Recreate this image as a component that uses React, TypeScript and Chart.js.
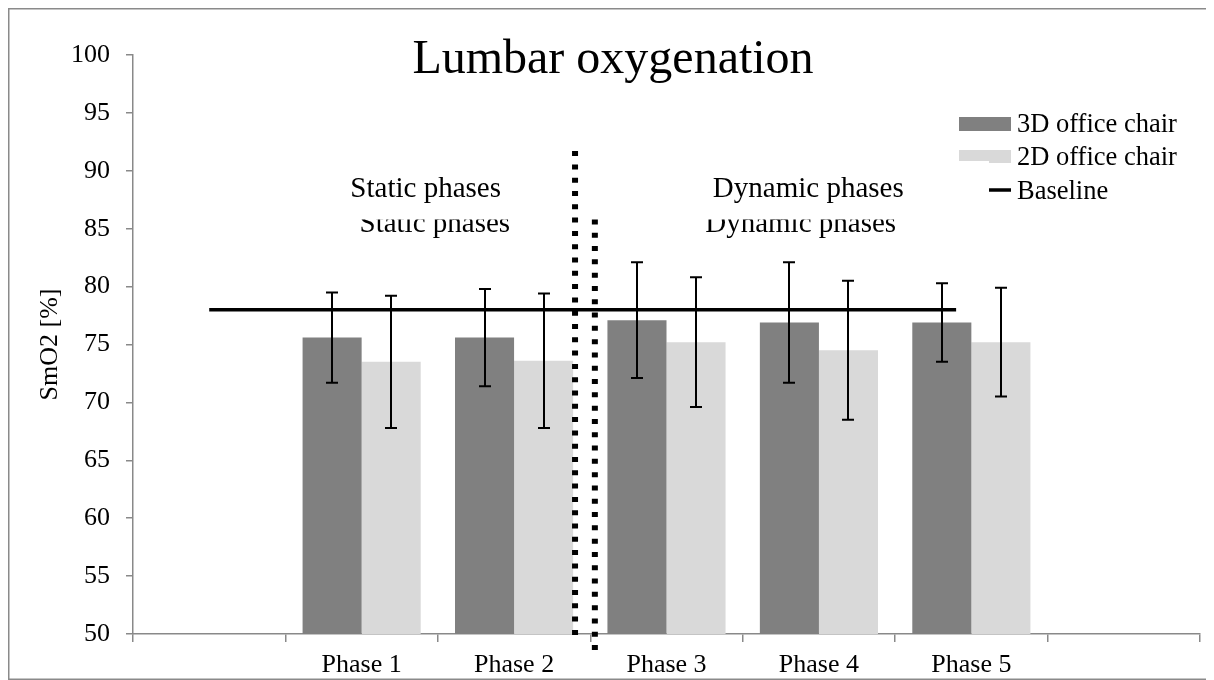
import React, { useEffect, useRef } from 'react';
import { Chart, registerables } from 'chart.js';

Chart.register(...registerables);

const FONT = "'Liberation Serif', 'Times New Roman', serif";

const CATEGORIES = ['', 'Phase 1', 'Phase 2', 'Phase 3', 'Phase 4', 'Phase 5', ''];
const CHAIR_3D = [null, 75.6, 75.6, 77.1, 76.9, 76.9, null];
const CHAIR_3D_SD = [null, 3.9, 4.2, 5.0, 5.2, 3.4, null];
const CHAIR_2D = [null, 73.5, 73.6, 75.2, 74.5, 75.2, null];
const CHAIR_2D_SD = [null, 5.7, 5.8, 5.6, 6.0, 4.7, null];
const BASELINE_VALUE = 78;
const BASELINE_FROM_TO = [0, 4.9];
const Y_MIN = 50;
const Y_MAX = 100;
const Y_STEP = 5;
const TITLE = 'Lumbar oxygenation';
const Y_TITLE = 'SmO2 [%]';
const SERIES_NAMES = ['3D office chair', '2D office chair', 'Baseline'];
const COLORS = ['#808080', '#d9d9d9', '#000000'];
// divider lines (x in category index units, y in SmO2 units)
const DIVIDER_X = [2.4, 2.53];
const DIVIDER_TOP = [91.7, 85.8];
const DIVIDER_BOTTOM = [49.3, 48.0];
// phase group labels
const GROUP_TEXT = ['Static phases', 'Static phases', 'Dynamic phases', 'Dynamic phases'];
const GROUP_X = [1.42, 1.48, 3.93, 3.88];
const GROUP_Y = [87.76, 84.72, 87.76, 84.72];
const GROUP_CLIP_ABOVE = [null, 85.8, null, 85.8];

const decorPlugin = {
  id: 'decor',
  beforeDraw(chart: any) {
    const { ctx, width, height } = chart;
    ctx.save();
    ctx.fillStyle = '#ffffff';
    ctx.fillRect(0, 0, width, height);
    ctx.strokeStyle = '#8a8a8a';
    ctx.lineWidth = 1.5;
    ctx.strokeRect(0.75, 0.75, width - 1.5, height - 1.5);
    ctx.restore();
  },
  afterDatasetsDraw(chart: any) {
    const { ctx } = chart;
    const xs = chart.scales.x;
    const y = chart.scales.y;
    ctx.save();
    // baseline
    ctx.strokeStyle = COLORS[2];
    ctx.lineWidth = 3.5;
    ctx.beginPath();
    const by = y.getPixelForValue(BASELINE_VALUE);
    ctx.moveTo(xs.getPixelForValue(BASELINE_FROM_TO[0]), by);
    ctx.lineTo(xs.getPixelForValue(BASELINE_FROM_TO[1]), by);
    ctx.stroke();
    // error bars
    const sds = [CHAIR_3D_SD, CHAIR_2D_SD];
    ctx.strokeStyle = '#000';
    ctx.lineWidth = 2;
    [0, 1].forEach((di) => {
      const meta = chart.getDatasetMeta(di);
      const vals = chart.data.datasets[di].data;
      meta.data.forEach((el: any, i: number) => {
        const v = vals[i];
        const sd = sds[di][i];
        if (v == null || sd == null) return;
        const x = Math.round(el.x);
        const yt = y.getPixelForValue(v + sd);
        const yb = y.getPixelForValue(v - sd);
        ctx.beginPath();
        ctx.moveTo(x, yt);
        ctx.lineTo(x, yb);
        ctx.moveTo(x - 6, yt);
        ctx.lineTo(x + 6, yt);
        ctx.moveTo(x - 6, yb);
        ctx.lineTo(x + 6, yb);
        ctx.stroke();
      });
    });
    ctx.restore();
  },
  afterDraw(chart: any) {
    const { ctx } = chart;
    const xs = chart.scales.x;
    const ys = chart.scales.y;
    ctx.save();
    // title
    ctx.fillStyle = '#000';
    ctx.font = `48px ${FONT}`;
    ctx.textAlign = 'center';
    ctx.textBaseline = 'alphabetic';
    ctx.fillText(TITLE, 605, 65);

    // dividers
    ctx.strokeStyle = '#000';
    ctx.lineWidth = 6;
    ctx.setLineDash([5, 8.3]);
    DIVIDER_X.forEach((dx, i) => {
      const px = xs.getPixelForValue(dx);
      ctx.beginPath();
      ctx.moveTo(px, ys.getPixelForValue(DIVIDER_TOP[i]));
      ctx.lineTo(px, ys.getPixelForValue(DIVIDER_BOTTOM[i]));
      ctx.stroke();
    });
    ctx.setLineDash([]);

    // group labels
    ctx.font = `29px ${FONT}`;
    ctx.textAlign = 'center';
    GROUP_TEXT.forEach((t, i) => {
      const px = xs.getPixelForValue(GROUP_X[i]);
      const py = ys.getPixelForValue(GROUP_Y[i]);
      ctx.save();
      const clip = GROUP_CLIP_ABOVE[i];
      if (clip != null) {
        const cy = ys.getPixelForValue(clip);
        ctx.beginPath();
        ctx.rect(0, cy, chart.width, chart.height - cy);
        ctx.clip();
      }
      ctx.fillStyle = '#000';
      ctx.fillText(t, px, py);
      ctx.restore();
    });

    // legend
    ctx.textAlign = 'left';
    ctx.font = `26.5px ${FONT}`;
    ctx.fillStyle = COLORS[0];
    ctx.fillRect(951, 109, 52, 14);
    ctx.fillStyle = COLORS[1];
    ctx.fillRect(951, 142, 30, 11);
    ctx.fillRect(981, 142, 22, 13);
    ctx.strokeStyle = COLORS[2];
    ctx.lineWidth = 3.5;
    ctx.beginPath();
    ctx.moveTo(981, 182);
    ctx.lineTo(1003, 182);
    ctx.stroke();
    ctx.fillStyle = '#000';
    ctx.fillText(SERIES_NAMES[0], 1009, 124);
    ctx.fillText(SERIES_NAMES[1], 1009, 157);
    ctx.fillText(SERIES_NAMES[2], 1009, 191);
    ctx.restore();
  },
};

export default function App() {
  const ref = useRef<HTMLCanvasElement>(null);
  useEffect(() => {
    const chart = new Chart(ref.current as HTMLCanvasElement, {
      type: 'bar',
      data: {
        labels: CATEGORIES,
        datasets: [
          {
            label: SERIES_NAMES[0],
            data: CHAIR_3D,
            backgroundColor: COLORS[0],
            borderWidth: 0,
            categoryPercentage: 0.775,
            barPercentage: 1,
          } as any,
          {
            label: SERIES_NAMES[1],
            data: CHAIR_2D,
            backgroundColor: COLORS[1],
            borderWidth: 0,
            categoryPercentage: 0.775,
            barPercentage: 1,
          } as any,
        ],
      },
      options: {
        animation: false,
        responsive: false,
        devicePixelRatio: 1,
        layout: { padding: { top: 47, right: 14, left: 0, bottom: 0 } },
        plugins: {
          legend: { display: false },
          tooltip: { enabled: false },
          title: { display: false },
        },
        scales: {
          x: {
            type: 'category',
            offset: true,
            grid: {
              offset: true,
              drawOnChartArea: false,
              drawTicks: true,
              tickLength: 8,
              color: '#898989',
              lineWidth: 1.5,
            },
            border: { display: true, color: '#898989', width: 1.5 },
            ticks: {
              color: '#000',
              font: { family: FONT, size: 26 },
              padding: 8,
              autoSkip: false,
              maxRotation: 0,
            },
            afterFit: (s: any) => {
              s.height = 46;
            },
          },
          y: {
            min: Y_MIN,
            max: Y_MAX,
            ticks: {
              stepSize: Y_STEP,
              color: '#000',
              font: { family: FONT, size: 26 },
              padding: 16,
            },
            grid: {
              drawOnChartArea: false,
              tickLength: 7,
              color: '#898989',
              lineWidth: 1.5,
            },
            border: { display: true, color: '#898989', width: 1.5 },
            title: {
              display: true,
              text: Y_TITLE,
              color: '#000',
              font: { family: FONT, size: 26 },
              padding: { top: 27, bottom: 0 },
            },
            afterFit: (s: any) => {
              s.width = 125;
            },
          },
        },
      } as any,
      plugins: [decorPlugin],
    });
    return () => chart.destroy();
  }, []);
  return (
    <div style={{ width: 1206, height: 672 }}>
      <canvas ref={ref} width={1206} height={672} style={{ display: 'block' }} />
    </div>
  );
}
